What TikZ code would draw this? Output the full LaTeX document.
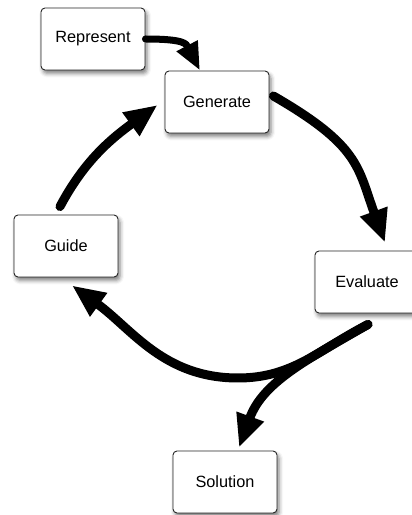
\documentclass[tikz,border=0pt]{standalone}
\usepackage{fontspec}
\setmainfont{Liberation Sans}
\usetikzlibrary{arrows.meta,shadows.blur}
\begin{document}
\begin{tikzpicture}[x=1pt,y=1pt,
  box/.style={draw=black!85, line width=0.9pt, rounded corners=4pt, fill=white,
    minimum width=104pt, minimum height=62pt, inner sep=0pt,
    font=\fontsize{16.3}{19}\selectfont,
    blur shadow={shadow xshift=2pt, shadow yshift=-3.5pt, shadow blur radius=4pt, shadow opacity=50}},
  flow/.style={line width=9pt, line cap=round, -{Triangle[length=33pt,width=27pt]}},
  smallflow/.style={line width=7pt, line cap=round, -{Triangle[length=28pt,width=22pt]}}]
\useasboundingbox (0,0) rectangle (412,515);
\node[box] (rep) at (93,476) {Represent};
\node[box] (gen) at (217,413) {Generate};
\node[box] (gui) at (66,269) {Guide};
\node[box] (eva) at (367,233) {Evaluate};
\node[box] (sol) at (225,33) {Solution};

\coordinate (evstart) at ([shift={(1pt,-11pt)}]eva.south);
\coordinate (dip) at (238,137);

\draw[smallflow] (rep.east) .. controls +(0:40) and +(117.5:30) .. ([xshift=-17pt]gen.north);
\draw[flow] ([shift={(-6pt,8pt)}]gui.north) .. controls +(62:50) and +(216:60) .. ([shift={(-7pt,-3pt)}]gen.west);
\draw[flow] ([shift={(4pt,6pt)}]gen.east) .. controls +(-30:100) and +(110:80) .. ([shift={(18pt,8pt)}]eva.north);
\draw[flow] (evstart) to[out=207,in=0] (dip) to[out=180,in=-36] ([shift={(6pt,-8pt)}]gui.south);
\draw[flow] (evstart) to[out=210,in=70] ([shift={(14pt,3pt)}]sol.north);
\end{tikzpicture}
\end{document}
